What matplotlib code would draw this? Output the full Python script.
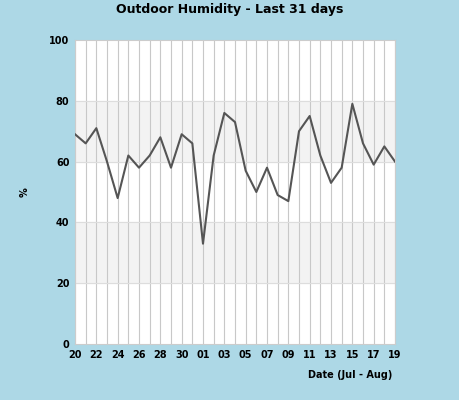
import matplotlib
matplotlib.use("Agg")
import matplotlib.pyplot as plt

days = [20, 21, 22, 23, 24, 25, 26, 27, 28, 29, 30, 31,
        1, 2, 3, 4, 5, 6, 7, 8, 9, 10, 11, 12, 13, 14, 15, 16, 17, 18, 19]
humidity = [69, 66, 71, 60, 48, 62, 58, 62, 68, 58, 69, 66,
            33, 62, 76, 73, 57, 50, 58, 49, 47, 70, 75, 62, 53, 58, 79, 66, 59, 65, 60]

bg = "#add8e6"
fig = plt.figure(figsize=(4.6, 4.0), dpi=100, facecolor=bg)
ax = fig.add_axes([75 / 460, 56 / 400, 320 / 460, 304 / 400])
ax.set_facecolor("white")

x = list(range(len(days)))
ax.axhspan(20, 40, color="#f3f3f3", zorder=0)
ax.axhspan(60, 80, color="#f3f3f3", zorder=0)
for xi in x:
    ax.axvline(xi, color="#c8c8c8", lw=0.8, zorder=1)
for yv in [20, 40, 60, 80]:
    ax.axhline(yv, color="#dddddd", lw=0.8, zorder=1)

ax.plot(x, humidity, color="#555555", lw=1.5, zorder=3)

ax.set_xlim(0, len(days) - 1)
ax.set_ylim(0, 100)
ax.set_xticks(x[::2])
ax.set_xticklabels([f"{d:02d}" for d in days[::2]], fontsize=7, fontweight="bold")
ax.set_yticks([0, 20, 40, 60, 80, 100])
ax.set_yticklabels(["0", "20", "40", "60", "80", "100"], fontsize=7, fontweight="bold")
ax.tick_params(length=0, pad=4)
for s in ax.spines.values():
    s.set_color("#cccccc")

ax.set_ylabel("%", fontsize=7, fontweight="bold", labelpad=14)
fig.text(392 / 460, 1 - 375 / 400, "Date (Jul - Aug)", ha="right", va="center",
         fontsize=7, fontweight="bold")
fig.text(0.5, 1 - 10 / 400, "Outdoor Humidity - Last 31 days", ha="center", va="center",
         fontsize=9, fontweight="bold")

fig.savefig("out.png", dpi=100, facecolor=bg)
